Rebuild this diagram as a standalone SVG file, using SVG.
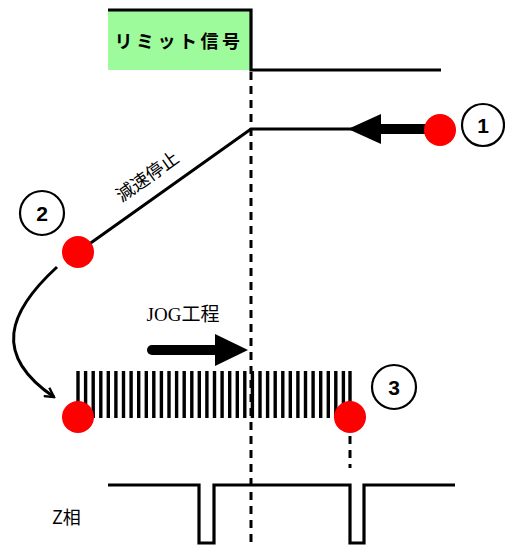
<svg xmlns="http://www.w3.org/2000/svg" width="505" height="546" viewBox="0 0 505 546">
  <style>
    .wave { fill: none; stroke: #000; stroke-width: 3.2; stroke-linejoin: miter; }
    .line { fill: none; stroke: #000; stroke-width: 3; }
    .dash { fill: none; stroke: #000; stroke-width: 3; stroke-dasharray: 8 6; }
    .dot { fill: #ff0000; }
    .badge { fill: #fff; stroke: #000; stroke-width: 2.2; }
    .num { font-family: "Liberation Sans", Arial, sans-serif; font-weight: bold; font-size: 21px; text-anchor: middle; }
    .label { font-family: "Noto Sans CJK JP", "Liberation Sans", sans-serif; font-size: 18px; }
    .pulse { stroke: #000; stroke-width: 3.4; }
  </style>
  <defs>
    <marker id="vhead" viewBox="0 0 12 12" refX="10" refY="6" markerWidth="12" markerHeight="12" markerUnits="userSpaceOnUse" orient="auto">
      <path d="M1,1 L10,6 L1,11" fill="none" stroke="#000" stroke-width="2.4"/>
    </marker>
  </defs>

  <!-- limit switch signal -->
  <g id="limit-signal">
    <rect x="108" y="10" width="143" height="60" fill="#9dfb9b"/>
    <polyline class="wave" points="108,10 251,10 251,70 441,70"/>
    <text class="label" x="179" y="48" text-anchor="middle" font-weight="bold" font-size="18" letter-spacing="3.5">リミット信号</text>
  </g>

  <!-- connectors: profile, reference line, motions -->
  <g id="connectors">
    <line class="dash" x1="251" y1="72" x2="251" y2="546"/>
    <polyline class="line" points="78,252 251,129 440,129"/>
    <path class="line" d="M57,267 C8,312 -8,355 54,397" marker-end="url(#vhead)"/>
    <line class="dash" x1="350" y1="436" x2="350" y2="468"/>
    <!-- return arrow -->
    <line x1="378" y1="129" x2="432" y2="129" stroke="#000" stroke-width="10"/>
    <polygon points="348,129 381,114 381,144" fill="#000"/>
    <!-- JOG arrow -->
    <line x1="152" y1="350" x2="218" y2="350" stroke="#000" stroke-width="10" stroke-linecap="round"/>
    <polygon points="248,350 215,334 215,366" fill="#000"/>
  </g>

  <g id="decel-label">
    <text class="label" x="147" y="183" font-size="20" text-anchor="middle" transform="rotate(-35.4 147 176)">減速停止</text>
  </g>

  <g id="jog-label">
    <text x="183" y="321" text-anchor="middle" font-family="'Liberation Serif', 'Noto Sans CJK JP', serif" font-size="19">JOG工程</text>
  </g>

  <!-- encoder pulses -->
  <g id="pulse-train">
    <path class="pulse" d="M78,371V418M85.6,371V418M93.2,371V418M100.8,371V418M108.3,371V418M115.9,371V418M123.5,371V418M131.1,371V418M138.7,371V418M146.3,371V418M153.8,371V418M161.4,371V418M169,371V418M176.6,371V418M184.2,371V418M191.8,371V418M199.3,371V418M206.9,371V418M214.5,371V418M222.1,371V418M229.7,371V418M237.3,371V418M244.8,371V418M252.4,371V418M260,371V418M267.6,371V418M275.2,371V418M282.8,371V418M290.3,371V418M297.9,371V418M305.5,371V418M313.1,371V418M320.7,371V418M328.3,371V418M335.8,371V418M343.4,371V418M350,371V418"/>
  </g>

  <!-- Z phase -->
  <g id="z-phase">
    <polyline class="wave" points="108,485 199,485 199,543 214,543 214,485 350,485 350,543 364,543 364,485 455,485"/>
    <text class="label" x="52" y="524" font-size="17">Z相</text>
  </g>

  <!-- markers -->
  <g id="point-1">
    <circle class="dot" cx="440" cy="130" r="16"/>
    <circle class="badge" cx="483" cy="125" r="21"/>
    <text class="num" x="483" y="133">1</text>
  </g>
  <g id="point-2">
    <circle class="dot" cx="78" cy="252" r="16"/>
    <circle class="badge" cx="42" cy="213" r="22"/>
    <text class="num" x="42" y="221">2</text>
  </g>
  <g id="point-3">
    <circle class="dot" cx="78" cy="417" r="16"/>
    <circle class="dot" cx="350" cy="417" r="16"/>
    <circle class="badge" cx="394" cy="387" r="22"/>
    <text class="num" x="394" y="395">3</text>
  </g>
</svg>
